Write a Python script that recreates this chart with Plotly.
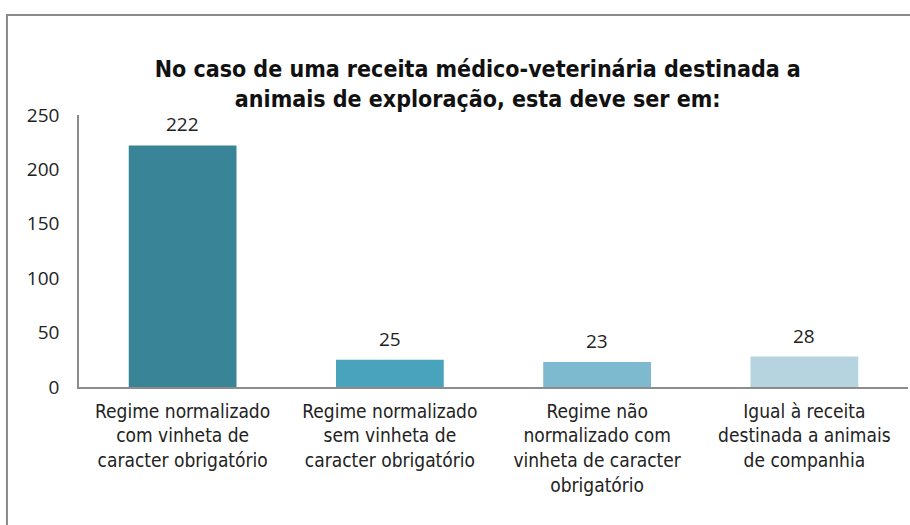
import plotly.graph_objects as go

categories = [
    "Regime normalizado<br>com vinheta de<br>caracter obrigatório",
    "Regime normalizado<br>sem vinheta de<br>caracter obrigatório",
    "Regime não<br>normalizado com<br>vinheta de caracter<br>obrigatório",
    "Igual à receita<br>destinada a animais<br>de companhia",
]
values = [222, 25, 23, 28]
colors = ["#3A8498", "#4AA3BC", "#7DB9CF", "#B5D4E0"]
y_ticks = [0, 50, 100, 150, 200, 250]
title_text = "No caso de uma receita médico-veterinária destinada a<br>animais de exploração, esta deve ser em:"

fig = go.Figure(
    go.Bar(
        x=categories,
        y=values,
        marker=dict(color=colors, line=dict(width=0)),
        width=0.52,
        hoverinfo="x+y",
    )
)

for c, v in zip(categories, values):
    fig.add_annotation(
        x=c, y=v, text=str(v), showarrow=False,
        yanchor="bottom", yshift=6,
        font=dict(family="Open Sans", size=19, color="#222222"),
    )

fig.update_layout(
    width=910,
    height=525,
    margin=dict(l=79, r=2, t=115, b=138),
    paper_bgcolor="white",
    plot_bgcolor="white",
    showlegend=False,
    title=dict(
        text="<b>" + title_text + "</b>",
        x=0.525,
        xanchor="center",
        y=0.853,
        yanchor="middle",
        font=dict(family="DejaVu Sans Condensed", size=23, color="#111111"),
    ),
    xaxis=dict(
        showline=True,
        linecolor="#8C8C8C",
        linewidth=1.5,
        showgrid=False,
        ticks="",
        ticklabelstandoff=6,
        tickfont=dict(family="DejaVu Sans Condensed", size=19, color="#222222"),
    ),
    yaxis=dict(
        range=[0, 250],
        tickvals=y_ticks,
        showline=True,
        linecolor="#8C8C8C",
        linewidth=1.5,
        showgrid=False,
        zeroline=False,
        ticks="",
        ticklabelstandoff=14,
        tickfont=dict(family="Open Sans", size=19, color="#222222"),
    ),
    shapes=[
        dict(
            type="path",
            xref="paper",
            yref="paper",
            path="M -0.0869,-0.6 L -0.0869,1.3676 L 1.1,1.3676",
            line=dict(color="#8A8A8A", width=2),
        )
    ],
)

fig.write_html(
    "out.html",
    config={"displayModeBar": False},
    post_script="document.body.style.margin='0';document.body.style.overflow='hidden';",
)
